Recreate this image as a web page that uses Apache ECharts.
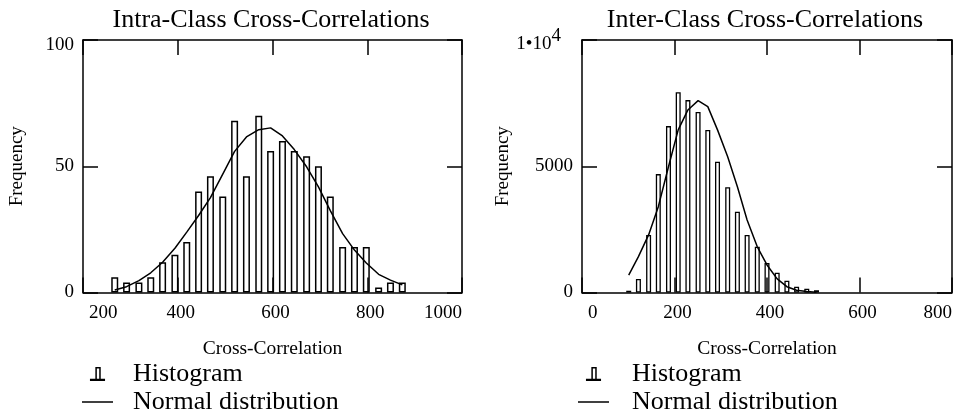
<!DOCTYPE html>
<html><head><meta charset="utf-8">
<script src="https://cdn.jsdelivr.net/npm/echarts@6/dist/echarts.min.js"></script>
<style>html,body{margin:0;padding:0;background:#fff}#c{width:960px;height:420px}</style>
</head><body><div id="c"></div>
<script>
const FONT = "'Liberation Serif','Times New Roman',serif";
const titles = ['Intra-Class Cross-Correlations', 'Inter-Class Cross-Correlations'];
const xName = 'Cross-Correlation';
const yName = 'Frequency';
const legendNames = ['Histogram', 'Normal distribution'];

// Intra-class histogram (bin centres, counts) and fitted normal curve
const intraBins = [267, 292, 318, 343, 368, 394, 419, 444, 469, 495, 520, 545, 571, 596, 621, 646, 672, 697, 722, 748, 773, 798, 824, 849, 874];
const intraCounts = [6, 4, 4, 6, 12, 15, 20, 40, 46, 38, 68, 46, 70, 56, 60, 56, 54, 50, 38, 18, 18, 18, 2, 4, 4];
const intraNormal = [1.0, 2.3, 4.7, 7.8, 12.0, 17.5, 23.9, 30.5, 37.6, 46.9, 55.9, 61.6, 64.5, 65.2, 62.0, 56.6, 49.8, 41.8, 32.4, 23.3, 16.8, 11.7, 7.2, 4.9, 3.0];

// Inter-class histogram and fitted normal curve
const interBins = [101, 122, 144, 165, 187, 208, 229, 251, 272, 293, 315, 336, 357, 379, 400, 422, 443, 464, 486, 507];
const interCounts = [70, 535, 2280, 4690, 6590, 7930, 7620, 7150, 6440, 5180, 4170, 3200, 2280, 1810, 1170, 780, 470, 230, 150, 90];
const interNormal = [690, 1420, 2280, 3400, 4980, 6440, 7230, 7600, 7360, 6440, 5380, 4190, 2870, 1810, 1090, 540, 230, 90, 35, 12];

// axis ranges [min, max, interval]
const intraX = [200, 1000, 200];
const intraY = [0, 100, 50];
const interX = [0, 800, 200];
const interY = [0, 10000, 5000];

const HIST_ICON = 'path://M0,11H14V13H0Z M5,0H10V11H8.6V1.4H6.4V11H5Z';
const LINE_ICON = 'path://M0,0H31V1.5H0Z';

const black = '#000';
const lineW = 1.5;

function xAxes(gi, r) {
  const common = {
    gridIndex: gi, type: 'value', min: r[0], max: r[1], interval: r[2], z: 10,
    axisLine: { show: true, onZero: false, lineStyle: { color: black, width: lineW } },
    axisTick: { show: true, inside: true, length: 15, lineStyle: { color: black, width: lineW } },
    splitLine: { show: false }
  };
  return [
    Object.assign({}, common, {
      position: 'bottom',
      axisLabel: { color: black, fontFamily: FONT, fontSize: 19, margin: 11, padding: [0, 0, 0, 6],
        alignMinLabel: 'left', alignMaxLabel: 'right', showMinLabel: true, showMaxLabel: true,
        formatter: v => String(v) },
      name: xName, nameLocation: 'middle', nameGap: 46,
      nameTextStyle: { color: black, fontFamily: FONT, fontSize: 19.5 }
    }),
    Object.assign({}, common, { position: 'top', axisLabel: { show: false } })
  ];
}

function yAxes(gi, r, gap, fmt) {
  const common = {
    gridIndex: gi, type: 'value', min: r[0], max: r[1], interval: r[2], z: 10,
    axisLine: { show: true, onZero: false, lineStyle: { color: black, width: lineW } },
    axisTick: { show: true, inside: true, length: 15, lineStyle: { color: black, width: lineW } },
    splitLine: { show: false }
  };
  return [
    Object.assign({}, common, {
      position: 'left',
      axisLabel: { color: black, fontFamily: FONT, fontSize: 19, margin: 9, showMinLabel: true, showMaxLabel: true,
        formatter: fmt,
        rich: {
          t: { fontFamily: FONT, fontSize: 19, color: black, padding: [10, 0, 0, 0] },
          a: { fontFamily: FONT, fontSize: 19, color: black, padding: [8, 0, 0, 0] },
          s: { fontFamily: FONT, fontSize: 19, color: black, padding: [0, 12, 8, 0] }
        } },
      name: yName, nameLocation: 'middle', nameGap: gap,
      nameTextStyle: { color: black, fontFamily: FONT, fontSize: 19 }
    }),
    Object.assign({}, common, { position: 'right', axisLabel: { show: false } })
  ];
}

function legend(left, pad) {
  return {
    left: left, top: 360, orient: 'vertical', padding: 0, itemGap: 0,
    itemWidth: 31, itemHeight: 14, selectedMode: false,
    textStyle: { fontFamily: FONT, fontSize: 26, color: black, lineHeight: 22, padding: [6, 0, 0, pad] },
    data: [
      { name: legendNames[0], icon: HIST_ICON, itemStyle: { color: black, borderWidth: 0 } },
      { name: legendNames[1], icon: LINE_ICON, itemStyle: { color: black, borderWidth: 0 } }
    ]
  };
}

function series(gi, bins, counts, normal, bw, bb) {
  return [
    { type: 'bar', name: legendNames[0], xAxisIndex: gi * 2, yAxisIndex: gi * 2,
      data: bins.map((x, i) => [x, counts[i]]), barWidth: bw, z: 2,
      itemStyle: { color: '#fff', borderColor: black, borderWidth: bb }, emphasis: { disabled: true } },
    { type: 'line', name: legendNames[1], xAxisIndex: gi * 2, yAxisIndex: gi * 2,
      data: bins.map((x, i) => [x, normal[i]]), symbol: 'none', z: 3,
      lineStyle: { color: black, width: lineW }, itemStyle: { color: black }, emphasis: { disabled: true } }
  ];
}

const chart = echarts.init(document.getElementById('c'), null, { renderer: 'canvas' });
chart.setOption({
  animation: false,
  backgroundColor: '#fff',
  title: [
    { text: titles[0], left: 271, top: 7, textAlign: 'center', padding: 0,
      textStyle: { fontFamily: FONT, fontSize: 26, fontWeight: 'normal', color: black } },
    { text: titles[1], left: 765, top: 7, textAlign: 'center', padding: 0,
      textStyle: { fontFamily: FONT, fontSize: 26, fontWeight: 'normal', color: black } }
  ],
  grid: [
    { left: 83, right: 498, top: 40, bottom: 127.5, outerBoundsMode: 'none' },
    { left: 582, right: 8, top: 40, bottom: 127.5, outerBoundsMode: 'none' }
  ],
  legend: [legend(82, 15), legend(578, 18)],
  xAxis: [].concat(xAxes(0, intraX), xAxes(1, interX)),
  yAxis: [].concat(
    yAxes(0, intraY, 56, v => v === intraY[1] ? '{t|' + v + '}' : String(v)),
    yAxes(1, interY, 62, v => v === interY[1] ? '{a|1•10}{s|4}' : String(v))
  ),
  series: [].concat(
    series(0, intraBins, intraCounts, intraNormal, 7, 1.5),
    series(1, interBins, interCounts, interNormal, 5, 1.3)
  )
});
</script></body></html>
